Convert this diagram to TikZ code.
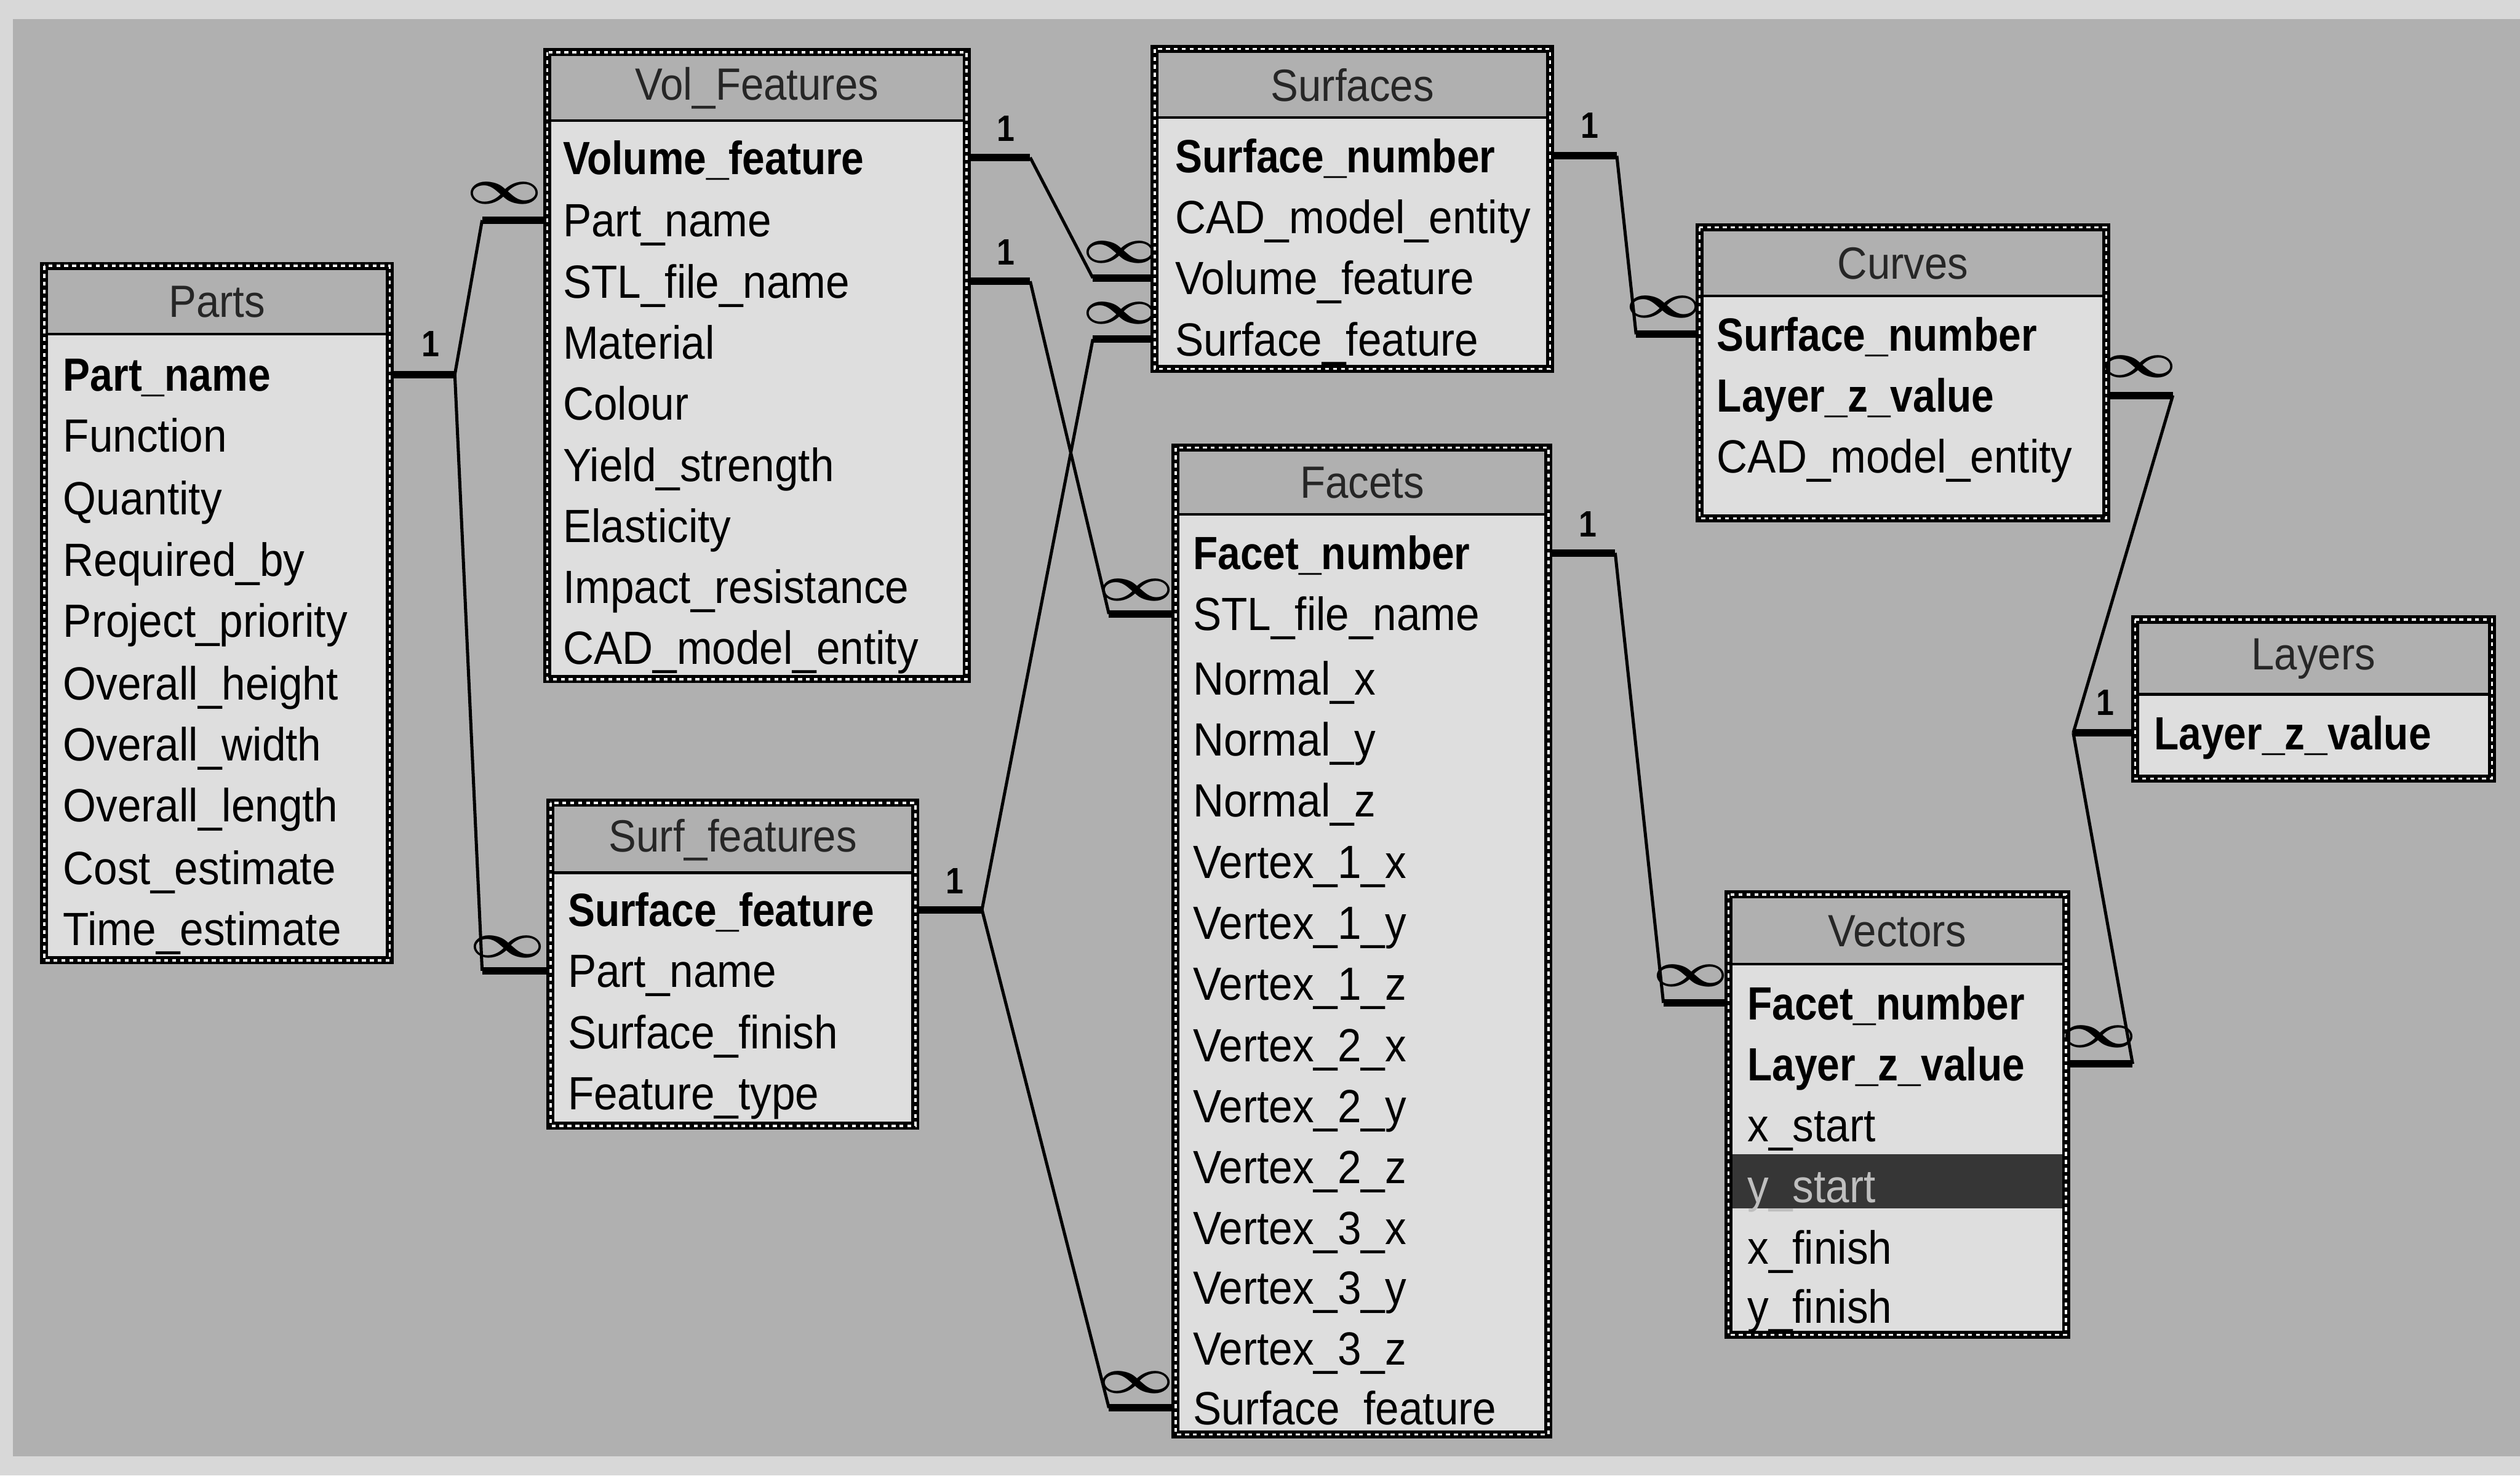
\documentclass[tikz,border=0pt]{standalone}
\usepackage{fontspec}
\usepackage{graphicx}
\newfontfamily\fldfont{Liberation Sans}[FakeStretch=0.915]
\newfontfamily\keyfont{Liberation Sans}[FakeStretch=0.87]
\usetikzlibrary{calc}
\definecolor{bgout}{HTML}{D8D8D8}
\definecolor{pat}{HTML}{B0B0B0}
\definecolor{body}{HTML}{DEDEDE}
\definecolor{hil}{HTML}{363636}
\tikzset{
  fld/.style={anchor=west, inner sep=0pt, text height=11.8pt, text depth=0pt,
    font={\fldfont\fontsize{16.5pt}{18pt}\selectfont}, text=black},
  key/.style={fld, font={\keyfont\bfseries\fontsize{16.5pt}{18pt}\selectfont}},
  ttl/.style={inner sep=0pt, font={\fldfont\fontsize{16pt}{18pt}\selectfont}, text=black!85},
  stub/.style={line width=2.6pt, black},
  rel/.style={line width=1.1pt, black},
  one/.style={inner sep=0pt, font={\keyfont\bfseries\fontsize{13pt}{14pt}\selectfont}},
  many/.style={inner sep=0pt, font={\fontsize{17pt}{18pt}\selectfont}},
  tabframe/.style={draw=none, fill=black, inner sep=0pt, outer sep=0pt, anchor=north west},
}
% #1 name, #2 x1, #3 y1, #4 x2, #5 y2, #6 title bottom, #7 title
\newcommand\dbtab[7]{%
  \node[tabframe, minimum width={(#4-#2)*0.02cm}, minimum height={(#5-#3)*0.02cm}] (#1) at (#2,#3) {};
  \draw[white, line width=0.8pt, dash pattern=on 1.4pt off 1.4pt] (#2+2.5,#3+2.5) rectangle (#4-2.5,#5-2.5);
  \fill[pat] (#2+5,#3+5) rectangle (#4-5,#6);
  \fill[body] (#2+5,#6) rectangle (#4-5,#5-5);
  \draw[line width=0.9pt] (#2+5,#6) -- (#4-5,#6);
  \node[ttl] (#1-title) at ({(#2+#4)/2},{(#3+5+#6)/2}) {#7};
}
\begin{document}
\begin{tikzpicture}[x=0.02cm, y=-0.02cm]
\useasboundingbox (0,0) rectangle (1568,918);
\fill[bgout] (0,0) rectangle (1568,918);
\fill[pat] (8,12) rectangle (1568,906);

% ---------- tables ----------
\dbtab{parts}{25}{163}{245}{600}{208}{Parts}
\node[key] (parts-partname) at (39,233) {Part\_name};
\node[fld] (parts-function) at (39,271) {Function};
\node[fld] (parts-quantity) at (39,310) {Quantity};
\node[fld] (parts-required) at (39,348) {Required\_by};
\node[fld] (parts-priority) at (39,386) {Project\_priority};
\node[fld] (parts-height) at (39,425) {Overall\_height};
\node[fld] (parts-width) at (39,463) {Overall\_width};
\node[fld] (parts-length) at (39,501) {Overall\_length};
\node[fld] (parts-cost) at (39,540) {Cost\_estimate};
\node[fld] (parts-time) at (39,578) {Time\_estimate};

\dbtab{vol}{338}{30}{604}{425}{75}{Vol\_Features}
\node[key] (vol-volfeat) at (350,98) {Volume\_feature};
\node[fld] (vol-partname) at (350,137) {Part\_name};
\node[fld] (vol-stl) at (350,175) {STL\_file\_name};
\node[fld] (vol-material) at (350,213) {Material};
\node[fld] (vol-colour) at (350,251) {Colour};
\node[fld] (vol-yield) at (350,289) {Yield\_strength};
\node[fld] (vol-elast) at (350,327) {Elasticity};
\node[fld] (vol-impact) at (350,365) {Impact\_resistance};
\node[fld] (vol-cad) at (350,403) {CAD\_model\_entity};

\dbtab{surf}{340}{497}{572}{703}{543}{Surf\_features}
\node[key] (surf-surffeat) at (353,566) {Surface\_feature};
\node[fld] (surf-partname) at (353,604) {Part\_name};
\node[fld] (surf-finish) at (353,642) {Surface\_finish};
\node[fld] (surf-type) at (353,680) {Feature\_type};

\dbtab{surfaces}{716}{28}{967}{232}{73}{Surfaces}
\node[key] (surfaces-surfnum) at (731,97) {Surface\_number};
\node[fld] (surfaces-cad) at (731,135) {CAD\_model\_entity};
\node[fld] (surfaces-volfeat) at (731,173) {Volume\_feature};
\node[fld] (surfaces-surffeat) at (731,211) {Surface\_feature};

\dbtab{facets}{729}{276}{966}{895}{320}{Facets}
\node[key] (facets-facetnum) at (742,344) {Facet\_number};
\node[fld] (facets-stl) at (742,382) {STL\_file\_name};
\node[fld] (facets-nx) at (742,422) {Normal\_x};
\node[fld] (facets-ny) at (742,460) {Normal\_y};
\node[fld] (facets-nz) at (742,498) {Normal\_z};
\node[fld] (facets-v1x) at (742,536) {Vertex\_1\_x};
\node[fld] (facets-v1y) at (742,574) {Vertex\_1\_y};
\node[fld] (facets-v1z) at (742,612) {Vertex\_1\_z};
\node[fld] (facets-v2x) at (742,650) {Vertex\_2\_x};
\node[fld] (facets-v2y) at (742,688) {Vertex\_2\_y};
\node[fld] (facets-v2z) at (742,726) {Vertex\_2\_z};
\node[fld] (facets-v3x) at (742,764) {Vertex\_3\_x};
\node[fld] (facets-v3y) at (742,801) {Vertex\_3\_y};
\node[fld] (facets-v3z) at (742,839) {Vertex\_3\_z};
\node[fld] (facets-surffeat) at (742,876) {Surface\_feature};

\dbtab{curves}{1055}{139}{1313}{325}{184}{Curves}
\node[key] (curves-surfnum) at (1068,208) {Surface\_number};
\node[key] (curves-layerz) at (1068,246) {Layer\_z\_value};
\node[fld] (curves-cad) at (1068,284) {CAD\_model\_entity};

\dbtab{layers}{1326}{383}{1553}{487}{432}{Layers}
\node[key] (layers-layerz) at (1340,456) {Layer\_z\_value};

\dbtab{vectors}{1073}{554}{1288}{833}{600}{Vectors}
\fill[hil] (1078,718) rectangle (1283,752);
\node[key] (vectors-facetnum) at (1087,624) {Facet\_number};
\node[key] (vectors-layerz) at (1087,662) {Layer\_z\_value};
\node[fld] (vectors-xstart) at (1087,700) {x\_start};
\node[fld, text=black!25] (vectors-ystart) at (1087,738) {y\_start};
\node[fld] (vectors-xfinish) at (1087,776) {x\_finish};
\node[fld] (vectors-yfinish) at (1087,813) {y\_finish};

% ---------- stubs ----------
\draw[stub] (parts.east |- parts-partname) -- ++(38,0) coordinate (pA);
\draw[stub] (vol.west |- vol-partname) -- ++(-38,0) coordinate (vA);
\draw[stub] (surf.west |- surf-partname) -- ++(-40,0) coordinate (sA);

\draw[stub] (vol.east |- vol-volfeat) -- ++(37,0) coordinate (vB);
\draw[stub] (surfaces.west |- surfaces-volfeat) -- ++(-36,0) coordinate (uB);

\draw[stub] (vol.east |- vol-stl) -- ++(37,0) coordinate (vC);
\draw[stub] (facets.west |- facets-stl) -- ++(-39,0) coordinate (fC);

\draw[stub] (surf.east |- surf-surffeat) -- ++(39,0) coordinate (sD);
\draw[stub] (surfaces.west |- surfaces-surffeat) -- ++(-36,0) coordinate (uD);
\draw[stub] (facets.west |- facets-surffeat) -- ++(-39,0) coordinate (fD);

\draw[stub] (surfaces.east |- surfaces-surfnum) -- ++(39,0) coordinate (uE);
\draw[stub] (curves.west |- curves-surfnum) -- ++(-37,0) coordinate (cE);

\draw[stub] (facets.east |- facets-facetnum) -- ++(39,0) coordinate (fF);
\draw[stub] (vectors.west |- vectors-facetnum) -- ++(-38,0) coordinate (tF);

\draw[stub] (layers.west |- layers-layerz) -- ++(-36,0) coordinate (lG);
\draw[stub] (curves.east |- curves-layerz) -- ++(39,0) coordinate (cG);
\draw[stub] (vectors.east |- vectors-layerz) -- ++(39,0) coordinate (tG);

% ---------- relationship lines ----------
\draw[rel] (pA) -- (vA);
\draw[rel] (pA) -- (sA);
\draw[rel] (vB) -- (uB);
\draw[rel] (vC) -- (fC);
\draw[rel] (sD) -- (uD);
\draw[rel] (sD) -- (fD);
\draw[rel] (uE) -- (cE);
\draw[rel] (fF) -- (tF);
\draw[rel] (lG) -- (cG);
\draw[rel] (lG) -- (tG);

% ---------- cardinality labels ----------
\node[one] (o1) at (268,214) {1};
\node[one] (o2) at (626,80) {1};
\node[one] (o3) at (626,157) {1};
\node[one] (o4) at (594,548) {1};
\node[one] (o5) at (989,78) {1};
\node[one] (o6) at (988,326) {1};
\node[one] (o7) at (1310,437) {1};

\node[many] (m1) at (314,120) {\scalebox{1.35}[1]{\boldmath$\infty$}};
\node[many] (m2) at (316,589) {\scalebox{1.35}[1]{\boldmath$\infty$}};
\node[many] (m3) at (697,157) {\scalebox{1.35}[1]{\boldmath$\infty$}};
\node[many] (m4) at (697,195) {\scalebox{1.35}[1]{\boldmath$\infty$}};
\node[many] (m5) at (707,367) {\scalebox{1.35}[1]{\boldmath$\infty$}};
\node[many] (m6) at (707,860) {\scalebox{1.35}[1]{\boldmath$\infty$}};
\node[many] (m7) at (1035,191) {\scalebox{1.35}[1]{\boldmath$\infty$}};
\node[many] (m8) at (1052,607) {\scalebox{1.35}[1]{\boldmath$\infty$}};
\node[many] (m9) at (1331,228) {\scalebox{1.35}[1]{\boldmath$\infty$}};
\node[many] (m10) at (1306,645) {\scalebox{1.35}[1]{\boldmath$\infty$}};
\end{tikzpicture}
\end{document}
